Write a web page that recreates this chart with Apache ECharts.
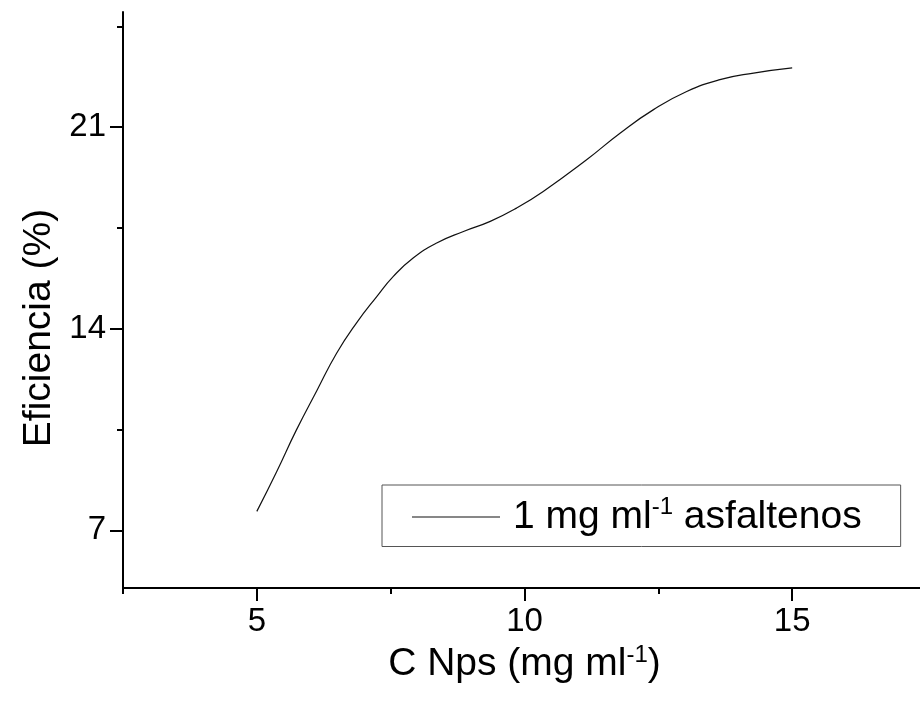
<!DOCTYPE html>
<html>
<head>
<meta charset="utf-8">
<title>Eficiencia vs C Nps</title>
<script src="https://cdn.jsdelivr.net/npm/echarts@6/dist/echarts.min.js"></script>
<style>
  html, body { margin: 0; padding: 0; background: #ffffff; }
  #chart { width: 920px; height: 709px; }
</style>
</head>
<body>
<div id="chart"></div>
<script>
// Nanoparticle concentration (mg/ml) and removal efficiency (%)
const concentration = [5.00, 5.37, 5.74, 6.12, 6.49, 6.86, 7.24, 7.55, 7.92, 8.36, 8.86,
                       9.36, 9.85, 10.35, 11.16, 11.79, 12.41, 13.03, 13.65, 14.28, 15.00];
const efficiency = [7.66, 9.04, 10.49, 11.85, 13.15, 14.20, 15.12, 15.82, 16.46, 16.98, 17.38,
                    17.73, 18.19, 18.77, 19.87, 20.80, 21.61, 22.24, 22.65, 22.88, 23.06];

// Axis ticks
const xMajorTicks = [5, 10, 15];
const xMinorTicks = [2.5, 7.5, 12.5, 17.5];
const yMajorTicks = [7, 14, 21];
const yMinorTicks = [10.5, 17.5, 24.5];

const seriesName = '1 mg ml-1 asfaltenos';

const FONT = '"Liberation Sans", Arial, sans-serif';
const INK = '#000000';

const points = concentration.map((c, i) => [c, efficiency[i]]);

const chart = echarts.init(document.getElementById('chart'), null, { renderer: 'canvas' });

const axisCommon = {
  type: 'value',
  splitLine: { show: false },
  axisLine: { show: true, lineStyle: { color: INK, width: 2 } }
};

chart.setOption({
  backgroundColor: '#ffffff',
  animation: false,
  grid: { left: 123, top: 12, width: 803, height: 576, containLabel: false, outerBoundsMode: 'none' },
  xAxis: [
    Object.assign({}, axisCommon, {
      min: 2.5, max: 17.5,
      position: 'bottom',
      axisTick: { show: true, inside: false, length: 13, customValues: xMajorTicks,
                  lineStyle: { color: INK, width: 2 } },
      axisLabel: { show: true, customValues: xMajorTicks, margin: 17,
                   fontFamily: FONT, fontSize: 33, color: INK },
      name: 'C Nps (mg ml{sup|-1})',
      nameLocation: 'middle',
      nameGap: 54,
      nameTextStyle: {
        fontFamily: FONT, fontSize: 39, color: INK,
        rich: { sup: { fontFamily: FONT, fontSize: 24, color: INK, padding: [0, 0, 18, 0] } }
      }
    }),
    Object.assign({}, axisCommon, {
      min: 2.5, max: 17.5,
      position: 'bottom',
      axisLine: { show: false },
      axisTick: { show: true, length: 6, customValues: xMinorTicks,
                  lineStyle: { color: INK, width: 2 } },
      axisLabel: { show: false }
    })
  ],
  yAxis: [
    Object.assign({}, axisCommon, {
      min: 5, max: 25,
      position: 'left',
      axisTick: { show: true, length: 13, customValues: yMajorTicks,
                  lineStyle: { color: INK, width: 2 } },
      axisLabel: { show: true, customValues: yMajorTicks, margin: 17,
                   fontFamily: FONT, fontSize: 33, color: INK },
      name: 'Eficiencia (%)',
      nameLocation: 'middle',
      nameGap: 64,
      nameTextStyle: { fontFamily: FONT, fontSize: 39, color: INK, padding: [0, 56, 0, 0] }
    }),
    Object.assign({}, axisCommon, {
      min: 5, max: 25,
      position: 'left',
      axisLine: { show: false },
      axisTick: { show: true, length: 6, customValues: yMinorTicks,
                  lineStyle: { color: INK, width: 2 } },
      axisLabel: { show: false }
    })
  ],
  legend: {
    show: true,
    left: 382,
    top: 485,
    orient: 'horizontal',
    padding: [10, 39, 10, 30],
    borderColor: '#555555',
    borderWidth: 1,
    icon: 'rect',
    itemWidth: 88,
    itemHeight: 1,
    data: [seriesName],
    formatter: () => '{a|1 mg ml}{sup|-1}{t| asfaltenos}',
    textStyle: {
      fontFamily: FONT, fontSize: 39, color: INK,
      rich: {
        a: { fontFamily: FONT, fontSize: 39, color: INK, padding: [0, 0, 0, 8] },
        t: { fontFamily: FONT, fontSize: 39, color: INK },
        sup: { fontFamily: FONT, fontSize: 24, color: INK, padding: [0, 0, 20, 0] }
      }
    }
  },
  series: [{
    name: seriesName,
    type: 'line',
    xAxisIndex: 0,
    yAxisIndex: 0,
    data: points,
    smooth: 0.5,
    symbol: 'none',
    lineStyle: { color: '#111111', width: 1.2 },
    itemStyle: { color: '#111111' }
  }]
});
</script>
</body>
</html>
